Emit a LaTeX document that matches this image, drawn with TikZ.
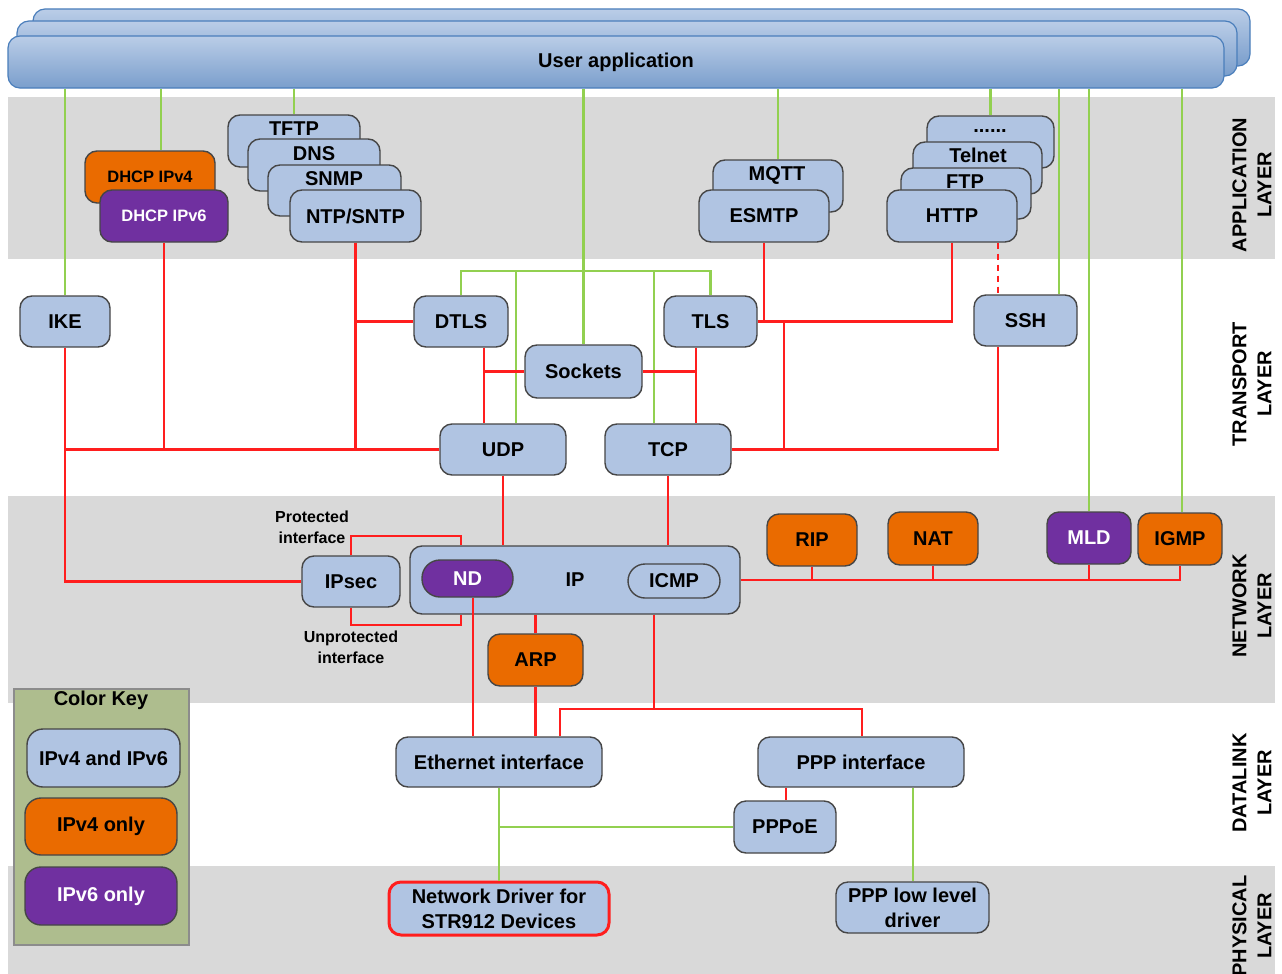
\documentclass[tikz,border=0pt]{standalone}
\usepackage{fontspec}
\setmainfont{Liberation Sans}
\usetikzlibrary{calc}
\definecolor{bxc}{RGB}{176,196,226}
\definecolor{orc}{RGB}{234,107,0}
\definecolor{puc}{RGB}{112,48,160}
\definecolor{grc}{RGB}{146,208,80}
\definecolor{rdc}{RGB}{255,30,30}
\definecolor{band}{RGB}{217,217,217}
\definecolor{keyc}{RGB}{174,189,142}
\definecolor{keyb}{RGB}{140,140,140}
\definecolor{bdc}{RGB}{70,70,70}
\definecolor{uat}{RGB}{186,205,231}
\definecolor{uabot}{RGB}{122,158,204}
\definecolor{uabd}{RGB}{74,126,187}
\newcommand\mylab{\bfseries\fontsize{20}{24}\selectfont}
\newcommand\mysmall{\bfseries\fontsize{16.5}{20}\selectfont}
\newcommand\myside{\bfseries\fontsize{16}{21}\selectfont}
\newcommand\mylayer{\bfseries\fontsize{20}{25}\selectfont}
\newcommand\bx[7]{\node[#6, minimum width={(#4)-(#2)}, minimum height={(#5)-(#3)}] (#1) at ({((#2)+(#4))/2},{((#3)+(#5))/2}) {#7};}
\tikzset{
  box/.style={draw=bdc, line width=1.4pt, fill=bxc, rounded corners=12pt, inner sep=0pt, font=\mylab, align=center},
  orbox/.style={box, fill=orc},
  pubox/.style={box, fill=puc, text=white},
  uabox/.style={draw=uabd, line width=1.2pt, top color=uat, bottom color=uabot, rounded corners=12pt, inner sep=0pt, font=\mylab},
  keybox/.style={draw=keyb, line width=1.5pt, fill=keyc, inner sep=0pt},
  gl/.style={draw=grc, line width=2.8pt},
  rl/.style={draw=rdc, line width=2.8pt},
  txt/.style={font=\mylab, inner sep=0pt},
  layer/.style={font=\mylayer, rotate=90, align=center, inner sep=0pt}
}
\begin{document}
\begin{tikzpicture}[x=1pt,y=-1pt]
\useasboundingbox (0,0) rectangle (1282,974);
\fill[white] (0,0) rectangle (1282,974);
% bands
\fill[band] (8,97) rectangle (1275,259);
\fill[band] (8,496) rectangle (1275,703);
\fill[band] (8,866) rectangle (1275,974);

% user application
\bx{ua3}{33}{9}{1250}{66}{uabox}{}
\bx{ua2}{17}{21}{1237}{76}{uabox}{}
\bx{ua}{8}{36}{1224}{88}{uabox}{User application}

% application layer
\bx{dhcp4}{85}{151}{215}{203}{orbox}{}
\node[txt, font=\mysmall] (dhcp4t) at (150,177) {DHCP IPv4};
\bx{dhcp6}{100}{190}{228}{242}{pubox, font=\mysmall}{DHCP IPv6}
\bx{tftp}{228}{115}{360}{167}{box}{}
\node[txt] (tftpt) at (294,129) {TFTP};
\bx{dns}{248}{139}{380}{191}{box}{}
\node[txt] (dnst) at (314,154) {DNS};
\bx{snmp}{268}{165}{401}{216}{box}{}
\node[txt] (snmpt) at (334,179) {SNMP};
\bx{ntp}{290}{190}{421}{242}{box}{NTP/SNTP}
\bx{mqtt}{713}{160}{843}{212}{box}{}
\node[txt] (mqttt) at (777,175) {MQTT};
\bx{esmtp}{699}{190}{829}{242}{box}{ESMTP}
\bx{dots}{927}{116}{1054}{168}{box}{}
\node[txt] (dotst) at (990,131) {......};
\bx{telnet}{913}{142}{1042}{194}{box}{}
\node[txt] (telnett) at (978,155) {Telnet};
\bx{ftp}{901}{168}{1031}{219}{box}{}
\node[txt] (ftpt) at (965,182) {FTP};
\bx{http}{887}{190}{1017}{242}{box}{HTTP}

% transport layer
\bx{ike}{20}{296}{110}{347}{box}{IKE}
\bx{dtls}{414}{296}{508}{347}{box}{DTLS}
\bx{sockets}{525}{345}{642}{398}{box}{Sockets}
\bx{tls}{664}{296}{757}{347}{box}{TLS}
\bx{ssh}{974}{295}{1077}{346}{box}{SSH}
\bx{udp}{440}{424}{566}{475}{box}{UDP}
\bx{tcp}{605}{424}{731}{475}{box}{TCP}

% network layer
\bx{ip}{410}{546}{740}{614}{box}{}
\node[txt] (ipt) at (575,580) {IP};
\bx{nd}{422}{560}{513}{597}{pubox, rounded corners=18pt}{ND}
\bx{icmp}{628}{564}{720}{598}{box, rounded corners=17pt}{ICMP}
\bx{ipsec}{302}{556}{400}{607}{box}{IPsec}
\bx{rip}{767}{514}{857}{566}{orbox}{RIP}
\bx{nat}{888}{512}{978}{565}{orbox}{NAT}
\bx{mld}{1047}{512}{1131}{564}{pubox}{MLD}
\bx{igmp}{1138}{513}{1222}{565}{orbox}{IGMP}
\bx{arp}{488}{634}{583}{686}{orbox}{ARP}
\node[font=\myside, align=center, inner sep=0pt] (prot) at (312,527) {Protected\\interface};
\node[font=\myside, align=center, inner sep=0pt] (unprot) at (351,647) {Unprotected\\interface};

% datalink
\bx{eth}{396}{737}{602}{787}{box}{Ethernet interface}
\bx{ppp}{758}{737}{964}{787}{box}{PPP interface}
\bx{pppoe}{734}{801}{836}{853}{box}{PPPoE}

% physical
\bx{drv}{389}{882}{609}{935}{box, draw=rdc, line width=3pt, font=\bfseries\fontsize{20}{25}\selectfont}{Network Driver for\\STR912 Devices}
\bx{pll}{836}{882}{989}{933}{box, font=\bfseries\fontsize{20}{25}\selectfont}{PPP low level\\driver}

% color key
\bx{key}{14}{689}{189}{945}{keybox}{}
\node[txt] (keyt) at (101,700) {Color Key};
\bx{k1}{27}{729}{180}{787}{box, rounded corners=16pt}{IPv4 and IPv6}
\bx{k2}{25}{798}{177}{855}{orbox, rounded corners=16pt}{IPv4 only}
\bx{k3}{25}{867}{177}{925}{pubox, rounded corners=16pt}{IPv6 only}

% layer labels
\node[layer] (lapp) at (1252,185) {APPLICATION\\LAYER};
\node[layer] (ltra) at (1252,384) {TRANSPORT\\LAYER};
\node[layer] (lnet) at (1252,606) {NETWORK\\LAYER};
\node[layer] (ldat) at (1252,783) {DATALINK\\LAYER};
\node[layer] (lphy) at (1252,926) {PHYSICAL\\LAYER};

% helper coordinates
\coordinate (x161) at (161,0);
\coordinate (x1059) at (1059,0);
\coordinate (x1182) at (1182,0);
\coordinate (bus) at (0,271);
\coordinate (x516) at (516,0);
\coordinate (x654) at (654,0);
\coordinate (x484) at (484,0);
\coordinate (x696) at (696,0);
\coordinate (x784) at (784,0);
\coordinate (x998) at (998,0);
\coordinate (x473) at (473,0);
\coordinate (x461) at (461,0);
\coordinate (pr) at (0,536);
\coordinate (up) at (0,625);
\coordinate (y709) at (0,709);
\coordinate (x560) at (560,0);
\coordinate (x862) at (862,0);
\coordinate (x786) at (786,0);
\coordinate (x913) at (913,0);

% green connectors
\draw[gl] (ua.south -| ike.north) -- (ike.north);
\draw[gl] (ua.south -| x161) -- (dhcp4.north -| x161);
\draw[gl] (ua.south -| tftp.north) -- (tftp.north);
\draw[gl] (ua.south -| sockets.north) -- (sockets.north);
\draw[gl] (ua.south -| mqtt.north) -- (mqtt.north);
\draw[gl] (ua.south -| dots.north) -- (dots.north);
\draw[gl] (ua.south -| x1059) -- (ssh.north -| x1059);
\draw[gl] (ua.south -| mld.north) -- (mld.north);
\draw[gl] (ua.south -| x1182) -- (igmp.north -| x1182);
\draw[gl] (dtls.north) -- (dtls.north |- bus) -- (tls.north |- bus) -- (tls.north);
\draw[gl] (x516 |- bus) -- (udp.north -| x516);
\draw[gl] (x654 |- bus) -- (tcp.north -| x654);
\draw[gl] (eth.south) -- (drv.north);
\draw[gl] (eth.south |- pppoe.west) -- (pppoe.west);
\draw[gl] (ppp.south -| x913) -- (pll.north -| x913);

% red connectors
\draw[rl] (ike.south) -- (ike.south |- ipsec.west) -- (ipsec.west);
\draw[rl] (ike.south |- udp.west) -- (udp.west);
\draw[rl] (dhcp6.south) -- (dhcp6.south |- udp.west);
\draw[rl] (ntp.south) -- (ntp.south |- udp.west);
\draw[rl] (ntp.south |- dtls.west) -- (dtls.west);
\draw[rl] (dtls.south -| x484) -- (udp.north -| x484);
\draw[rl] (sockets.west) -- (sockets.west -| x484);
\draw[rl] (tls.south -| x696) -- (tcp.north -| x696);
\draw[rl] (sockets.east) -- (sockets.east -| x696);
\draw[rl] (esmtp.south) -- (esmtp.south |- tls.east);
\draw[rl] (tls.east) -- (http.south |- tls.east) -- (http.south);
\draw[rl] (x784 |- tls.east) -- (x784 |- tcp.east);
\draw[rl] (tcp.east) -- (x998 |- tcp.east) -- (ssh.south -| x998);
\draw[rl, dash pattern=on 6pt off 5pt] (http.south -| x998) -- (ssh.north -| x998);
\draw[rl] (udp.south) -- (udp.south |- ip.north);
\draw[rl] (tcp.south) -- (tcp.south |- ip.north);
\draw[rl] (ipsec.north) -- (ipsec.north |- pr) -- (x461 |- pr) -- (ip.north -| x461);
\draw[rl] (ipsec.south) -- (ipsec.south |- up) -- (x461 |- up) -- (ip.south -| x461);
\draw[rl] (ip.east) -- (igmp.south |- ip.east) -- (igmp.south);
\draw[rl] (rip.south) -- (rip.south |- ip.east);
\draw[rl] (nat.south) -- (nat.south |- ip.east);
\draw[rl] (mld.south) -- (mld.south |- ip.east);
\draw[rl] (arp.north) -- (arp.north |- ip.south);
\draw[rl] (nd.south -| x473) -- (eth.north -| x473);
\draw[rl] (arp.south) -- (eth.north -| arp.south);
\draw[rl] (ip.south -| x654) -- (x654 |- y709);
\draw[rl] (eth.north -| x560) -- (x560 |- y709) -- (x862 |- y709) -- (ppp.north -| x862);
\draw[rl] (ppp.south -| x786) -- (pppoe.north -| x786);
\end{tikzpicture}
\end{document}
